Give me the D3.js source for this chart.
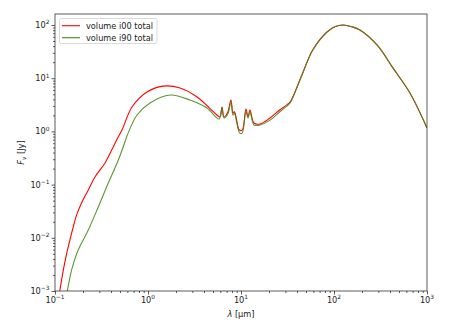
<!DOCTYPE html>
<html>
<head>
<meta charset="utf-8">
<script src="https://cdn.jsdelivr.net/npm/d3@7"></script>
<style>
  html, body { margin: 0; padding: 0; background: #fff; }
  svg { display: block; font-family: "DejaVu Sans", sans-serif; }
</style>
</head>
<body>
<svg id="chart" width="449" height="336"></svg>
<script>
// ---- data (wavelength in micron, flux in Jy) ----
const seriesNames = ["volume i00 total", "volume i90 total"];
const seriesColors = ["#ff0000", "#4a8a1e"];

const lamI00 = [0.112, 0.123, 0.134, 0.151, 0.171, 0.194, 0.228, 0.269, 0.345, 0.407, 0.460, 0.525, 0.673, 0.975, 1.45, 2.21, 3.37, 5.52, 5.94, 6.25, 6.56, 7.2, 7.8, 8.2, 8.5, 9.0, 9.6, 10.3, 11.3, 11.9, 12.5, 13.8, 16, 20.5, 26, 33.6, 36, 46, 59, 84, 102, 125, 155, 190, 290, 430, 656, 1000];
const fluxI00 = [0.00095, 0.0025, 0.0052, 0.0123, 0.027, 0.046, 0.079, 0.139, 0.255, 0.447, 0.69, 1.06, 2.88, 5.5, 7.1, 6.55, 4.44, 2.03, 1.87, 2.88, 1.87, 2.3, 3.9, 2.22, 2.35, 1.6, 1.06, 1.06, 2.64, 1.87, 2.52, 1.44, 1.38, 1.79, 2.52, 3.57, 4.4, 12.5, 33.9, 73.8, 93, 100, 93, 80.5, 42.1, 15.6, 5.27, 1.16];

const lamI90 = [0.135, 0.151, 0.171, 0.186, 0.228, 0.292, 0.374, 0.480, 0.566, 0.594, 0.762, 1.05, 1.73, 2.83, 4.31, 5.8, 6.25, 6.56, 7.2, 7.8, 8.2, 8.5, 9.0, 9.7, 10.3, 11.3, 11.9, 12.5, 13.8, 16, 20.5, 26, 33.6, 36, 46, 59, 84, 102, 125, 155, 190, 290, 430, 656, 1000];
const fluxI90 = [0.00095, 0.0025, 0.0050, 0.0070, 0.014, 0.038, 0.107, 0.29, 0.64, 0.82, 2.03, 3.42, 4.83, 3.89, 2.75, 1.71, 2.75, 1.79, 2.1, 3.57, 2.03, 2.2, 1.45, 0.93, 0.93, 2.41, 1.79, 2.32, 1.32, 1.32, 1.63, 2.32, 3.4, 4.3, 12.3, 33.6, 73.5, 93, 100, 93, 80.5, 42.1, 15.6, 5.27, 1.16];

const xMajorTicks = [-1, 0, 1, 2, 3];      // exponents of 10
const yMajorTicks = [-3, -2, -1, 0, 1, 2];  // exponents of 10
const xDomain = [0.1, 1000];
const yDomain = [1e-3, 161];

// ---- layout ----
const L = 55, R = 427, T = 14, B = 291;
const svg = d3.select("#chart");
const x = d3.scaleLog().domain(xDomain).range([L, R]);
const y = d3.scaleLog().domain(yDomain).range([B, T]);
const FS = 8.2;

function minorTicks(scale, lo, hi) {
  const out = [];
  for (let e = lo; e < hi; e++) {
    for (let m = 2; m <= 9; m++) {
      const v = m * Math.pow(10, e);
      const d = scale.domain();
      if (v >= d[0] && v <= d[1]) out.push(v);
    }
  }
  return out;
}

// axes ticks
const xMajVals = xMajorTicks.map(e => Math.pow(10, e));
const yMajVals = yMajorTicks.map(e => Math.pow(10, e));

const gx = svg.append("g").attr("transform", `translate(0,${B})`);
gx.call(d3.axisBottom(x).tickValues(xMajVals).tickSize(3.5).tickFormat(""));
gx.append("g").call(d3.axisBottom(x).tickValues(minorTicks(x, -1, 3)).tickSize(2).tickFormat(""));
const gy = svg.append("g").attr("transform", `translate(${L},0)`);
gy.call(d3.axisLeft(y).tickValues(yMajVals).tickSize(3.5).tickFormat(""));
gy.append("g").call(d3.axisLeft(y).tickValues(minorTicks(y, -3, 3)).tickSize(2).tickFormat(""));
svg.selectAll(".domain").remove();
svg.selectAll(".tick line").attr("stroke", "#333").attr("stroke-width", 0.8);

// tick labels with superscripts
xMajorTicks.forEach(e => {
  const t = svg.append("text")
    .attr("x", x(Math.pow(10, e))).attr("y", 303)
    .attr("text-anchor", "middle").attr("font-size", FS).attr("fill", "#222");
  t.append("tspan").text("10");
  t.append("tspan").attr("dy", -3.6).attr("font-size", FS * 0.72).text(e < 0 ? "\u2212" + (-e) : String(e));
});
yMajorTicks.forEach(e => {
  const t = svg.append("text")
    .attr("x", 49.5).attr("y", y(Math.pow(10, e)) + 3)
    .attr("text-anchor", "end").attr("font-size", FS).attr("fill", "#222");
  t.append("tspan").text("10");
  t.append("tspan").attr("dy", -3.6).attr("font-size", FS * 0.72).text(e < 0 ? "\u2212" + (-e) : String(e));
});

// axis titles
const xt = svg.append("text").attr("x", (L + R) / 2).attr("y", 317)
  .attr("text-anchor", "middle").attr("font-size", FS).attr("fill", "#222");
xt.append("tspan").attr("font-style", "italic").text("\u03bb");
xt.append("tspan").text(" [\u03bcm]");

const yt = svg.append("text")
  .attr("transform", `translate(24,${(T + B) / 2}) rotate(-90)`)
  .attr("text-anchor", "middle").attr("font-size", FS).attr("fill", "#222");
yt.append("tspan").attr("font-style", "italic").text("F");
yt.append("tspan").attr("font-style", "italic").attr("font-size", FS * 0.72).attr("dy", 2).text("\u03bd");
yt.append("tspan").attr("dy", -2).text(" [Jy]");

// clip + lines
svg.append("clipPath").attr("id", "clip").append("rect")
  .attr("x", L).attr("y", T).attr("width", R - L).attr("height", B - T);

const line = d3.line().x(d => x(d[0])).y(d => y(d[1])).curve(d3.curveCatmullRom.alpha(0.5));
const series = [d3.zip(lamI00, fluxI00), d3.zip(lamI90, fluxI90)];
const plot = svg.append("g").attr("clip-path", "url(#clip)");
series.forEach((s, i) => {
  plot.append("path").datum(s).attr("d", line)
    .attr("fill", "none").attr("stroke", seriesColors[i])
    .attr("stroke-width", 1.1).attr("stroke-linejoin", "round")
    .attr("stroke-opacity", i === 1 ? 0.9 : 1);
});

// frame
svg.append("rect").attr("x", L).attr("y", T).attr("width", R - L).attr("height", B - T)
  .attr("fill", "none").attr("stroke", "#333").attr("stroke-width", 0.8);

// legend
const lg = svg.append("g");
lg.append("rect").attr("x", 59.5).attr("y", 18.5).attr("width", 97.5).attr("height", 25)
  .attr("rx", 2).attr("fill", "#fff").attr("fill-opacity", 0.8)
  .attr("stroke", "#d0d0d0").attr("stroke-width", 0.8);
seriesNames.forEach((n, i) => {
  const yy = 25.7 + i * 12;
  lg.append("line").attr("x1", 62).attr("x2", 80).attr("y1", yy).attr("y2", yy)
    .attr("stroke", seriesColors[i]).attr("stroke-width", 1.1);
  lg.append("text").attr("x", 86).attr("y", yy + 3).attr("font-size", FS).attr("fill", "#222").text(n);
});
</script>
</body>
</html>
